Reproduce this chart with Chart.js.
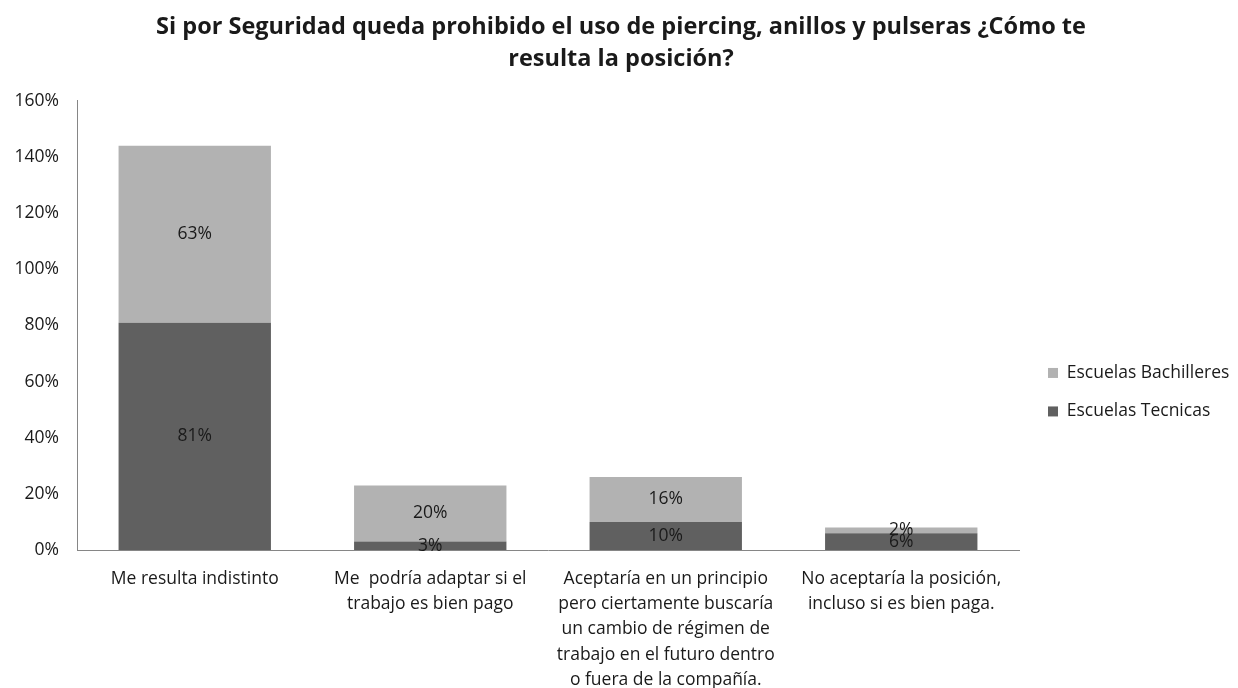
<!DOCTYPE html>
<html>
<head>
<meta charset="utf-8">
<script src="https://cdn.jsdelivr.net/npm/chart.js@4.4.0/dist/chart.umd.min.js"></script>
<style>
  html, body { margin: 0; padding: 0; background: #fff; }
  #wrap { width: 1238px; height: 688px; position: relative; }
</style>
</head>
<body>
<div id="wrap"><canvas id="chart"></canvas></div>
<script>
// Respuestas por tipo de escuela (en %)
const categories = [
    'Me resulta indistinto',
    ['Me  podría adaptar si el', 'trabajo es bien pago'],
    ['Aceptaría en un principio', 'pero ciertamente buscaría', 'un cambio de régimen de', 'trabajo en el futuro dentro', 'o fuera de la compañía.'],
    ['No aceptaría la posición,', 'incluso si es bien paga.']
];
const tecnicas = [81, 3, 10, 6];
const bachilleres = [63, 20, 16, 2];
const titleLines = [
    'Si por Seguridad queda prohibido el uso de piercing, anillos y pulseras ¿Cómo te',
    'resulta la posición?'
];

const FONT = '"Open Sans", sans-serif';
const TEXT = '#1a1a1a';
const SIZE = 17.5;

// etiquetas de valor en el centro de cada segmento
const segmentLabels = {
    id: 'segmentLabels',
    afterDatasetsDraw(chart) {
        const ctx = chart.ctx;
        ctx.save();
        ctx.font = SIZE + 'px ' + FONT;
        ctx.fillStyle = TEXT;
        ctx.textAlign = 'center';
        ctx.textBaseline = 'middle';
        chart.data.datasets.forEach((ds, i) => {
            const meta = chart.getDatasetMeta(i);
            meta.data.forEach((bar, j) => {
                const y = (bar.y + bar.base) / 2;
                ctx.fillText(ds.data[j] + '%', bar.x, y);
            });
        });
        ctx.restore();
    }
};

new Chart(document.getElementById('chart'), {
    type: 'bar',
    data: {
        labels: categories,
        datasets: [
            { label: 'Escuelas Tecnicas', data: tecnicas, backgroundColor: '#606060' },
            { label: 'Escuelas Bachilleres', data: bachilleres, backgroundColor: '#b2b2b2' }
        ]
    },
    options: {
        responsive: true,
        maintainAspectRatio: false,
        animation: false,
        layout: { padding: { left: 12, right: 8, top: 11, bottom: 0 } },
        datasets: { bar: { categoryPercentage: 0.647, barPercentage: 1 } },
        plugins: {
            title: {
                display: true,
                text: titleLines,
                color: TEXT,
                font: { family: FONT, size: 23.5, weight: 'bold', lineHeight: 1.36 },
                padding: { top: 0, bottom: 26 }
            },
            legend: {
                position: 'right',
                reverse: true,
                title: { display: true, text: '', padding: { top: 0, bottom: 71 } },
                labels: {
                    color: TEXT,
                    font: { family: FONT, size: SIZE },
                    boxWidth: 10,
                    boxHeight: 10,
                    padding: 21
                }
            },
            tooltip: { enabled: false }
        },
        scales: {
            x: {
                stacked: true,
                grid: { display: false, drawTicks: false },
                border: { color: '#868686' },
                ticks: { color: TEXT, font: { family: FONT, size: SIZE, lineHeight: 1.446 }, padding: 16, maxRotation: 0, autoSkip: false },
                afterFit: scale => { scale.height = 138; }
            },
            y: {
                stacked: true,
                min: 0,
                max: 160,
                grid: { display: false, drawTicks: false },
                border: { color: '#868686' },
                ticks: { stepSize: 20, color: TEXT, font: { family: FONT, size: SIZE }, padding: 18, callback: v => v + '%' },
                afterFit: scale => { scale.width = 65; }
            },
            // espacio vacío entre el área de barras y la leyenda
            gap: {
                type: 'linear',
                position: 'right',
                grid: { display: false, drawTicks: false },
                border: { display: false },
                ticks: { display: false },
                afterFit: scale => { scale.width = 8; }
            }
        }
    },
    plugins: [segmentLabels]
});
</script>
</body>
</html>
